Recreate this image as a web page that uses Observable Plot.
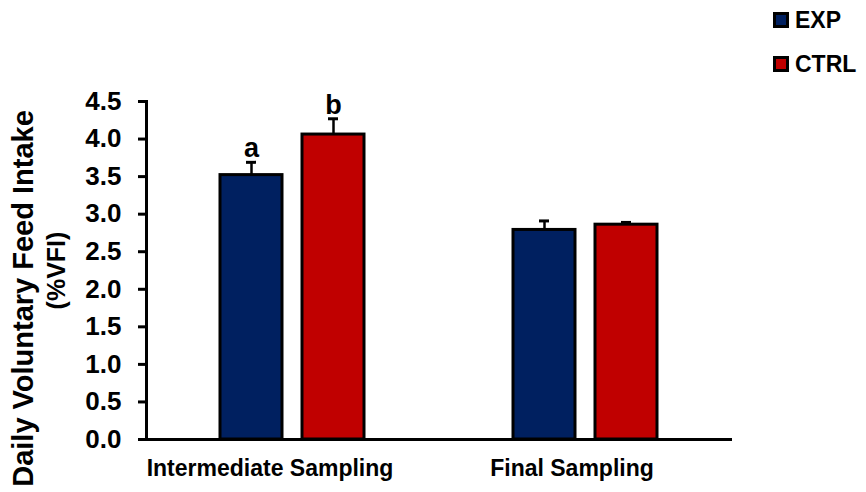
<!DOCTYPE html>
<html>
<head>
<meta charset="utf-8">
<script src="https://cdn.jsdelivr.net/npm/d3@7"></script>
<script src="https://cdn.jsdelivr.net/npm/@observablehq/plot@0.6"></script>
<style>
  body { margin: 0; background: #fff; font-family: "Liberation Sans", Arial, sans-serif; }
  #wrap { position: relative; width: 866px; height: 492px; }
  .legend { position: absolute; left: 773px; top: 9px; font-weight: bold; font-size: 23px; color: #000; }
  .legend .item { display: flex; align-items: center; height: 22px; margin-bottom: 22px; }
  .legend .sw { width: 16px; height: 16px; box-sizing: border-box; border: 3px solid #000; margin-right: 6px; }
</style>
</head>
<body>
<div id="wrap"></div>
<script>
const categories = ["Intermediate Sampling", "Final Sampling"];
const series = ["EXP", "CTRL"];
const colors = ["#002060", "#C00000"];
const expValues = [3.52, 2.79];
const expErrors = [0.17, 0.12];
const ctrlValues = [4.06, 2.86];
const ctrlErrors = [0.21, 0.03];
const letters = [["a", "b"], ["", ""]];
const yTicks = [0, 0.5, 1, 1.5, 2, 2.5, 3, 3.5, 4, 4.5];
const yTitle = ["Daily Voluntary Feed Intake", "(%VFI)"];

const data = [];
categories.forEach((c, i) => {
  data.push({category: c, series: "EXP", value: expValues[i], err: expErrors[i], letter: letters[i][0]});
  data.push({category: c, series: "CTRL", value: ctrlValues[i], err: ctrlErrors[i], letter: letters[i][1]});
});
data.forEach(d => d.top = d.value + d.err);

const font = "Liberation Sans, Arial, sans-serif";
const fxAxisStyle = {anchor: "bottom", tickSize: 0, tickPadding: 20, fontSize: 23, fontWeight: "bold", label: null};

const chart = Plot.plot({
  width: 866,
  height: 492,
  marginLeft: 145,
  marginRight: 134,
  marginTop: 101,
  marginBottom: 53,
  style: {fontFamily: font, background: "transparent", color: "#000"},
  fx: {domain: categories, padding: 0},
  x: {domain: series, paddingInner: 0.241, paddingOuter: 0.889, axis: null},
  y: {domain: [0, 4.5]},
  color: {domain: series, range: colors},
  marks: [
    Plot.barY(data, {fx: "category", x: "series", y: "value", fill: "series", stroke: "#000", strokeWidth: 3}),
    Plot.ruleX(data, {fx: "category", x: "series", y1: "value", y2: "top", stroke: "#000", strokeWidth: 2.5}),
    Plot.tickY(data, {fx: "category", x: "series", y: "top", stroke: "#000", strokeWidth: 3, insetLeft: 26, insetRight: 26}),
    Plot.text(data, {fx: "category", x: "series", y: "top", text: "letter", lineAnchor: "bottom", dy: -5, fontSize: 27, fontWeight: "bold", fill: "#000"}),
    Plot.ruleY([0], {stroke: "#000", strokeWidth: 3}),
    Plot.frame({anchor: "left", facetAnchor: "left", stroke: "#000", strokeWidth: 3}),
    Plot.axisY({ticks: yTicks, tickFormat: d => d.toFixed(1), tickSize: 8, tickPadding: 17, strokeWidth: 3, fontSize: 26, fontWeight: "bold", label: null}),
    Plot.axisFx({...fxAxisStyle, ticks: [categories[0]], dx: -23}),
    Plot.axisFx({...fxAxisStyle, ticks: [categories[1]], dx: -14}),
    Plot.text([yTitle[0]], {frameAnchor: "left", textAnchor: "middle", rotate: -90, dx: -123, dy: 28, fontSize: 29, fontWeight: "bold", fill: "#000", facetAnchor: "left"}),
    Plot.text([yTitle[1]], {frameAnchor: "left", textAnchor: "middle", rotate: -90, dx: -90, dy: 0, fontSize: 25, fontWeight: "bold", fill: "#000", facetAnchor: "left"})
  ]
});

const wrap = document.getElementById("wrap");
wrap.appendChild(chart);
const legend = document.createElement("div");
legend.className = "legend";
series.forEach((s, i) => {
  const item = document.createElement("div");
  item.className = "item";
  const sw = document.createElement("span");
  sw.className = "sw";
  sw.style.background = colors[i];
  const t = document.createElement("span");
  t.textContent = s;
  item.appendChild(sw);
  item.appendChild(t);
  legend.appendChild(item);
});
wrap.appendChild(legend);
</script>
</body>
</html>
